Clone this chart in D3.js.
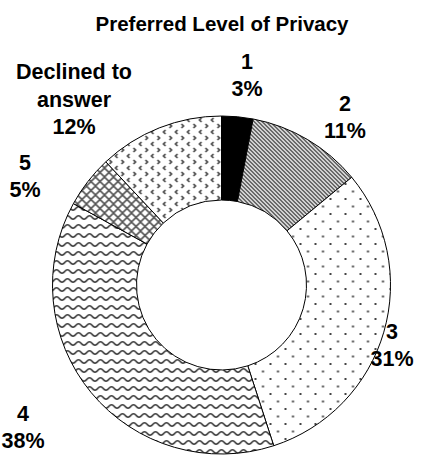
<!DOCTYPE html>
<html><head><meta charset="utf-8">
<script src="https://cdn.jsdelivr.net/npm/d3@7"></script>
<style>html,body{margin:0;padding:0;background:#fff;}svg{display:block;}</style>
</head><body>
<svg id="chart" width="443" height="460"></svg>
<script>
// ---- data ----
const categories = ["1", "2", "3", "4", "5", "Declined to answer"];
const values = [3, 11, 31, 38, 5, 12];
const labelNames = [["1"], ["2"], ["3"], ["4"], ["5"], ["Declined to", "answer"]];
const patternIds = ["solid", "stripes", "dots", "waves", "lattice", "divots"];
const title = "Preferred Level of Privacy";

// ---- layout ----
const W = 443, H = 460;
const cx = 221.5, cy = 285, rOuter = 169, rInner = 85;
const titleSize = 20.5, fontSize = 21.5, lineH = 27.5;
// label anchor: center x, baseline of last line
const labelAnchor = [[247, 96], [345, 138], [392, 366], [23, 448], [25, 197], [74, 134]];

const svg = d3.select("#chart");
const defs = svg.append("defs");
const ink = "#333";

function pat(id, w, h) {
  return defs.append("pattern").attr("id", id).attr("patternUnits", "userSpaceOnUse")
    .attr("width", w).attr("height", h);
}
// stripes "\"
let p = pat("stripes", 4, 4);
p.append("rect").attr("width", 4).attr("height", 4).attr("fill", "#fff");
p.append("path").attr("d", "M-1,-1L5,5M-1,3L1,5M3,-1L5,1").attr("stroke", ink).attr("stroke-width", 1.3);
// dots
p = pat("dots", 15, 15);
p.append("rect").attr("width", 15).attr("height", 15).attr("fill", "#fff");
p.append("rect").attr("x", 3).attr("y", 3).attr("width", 2).attr("height", 2).attr("fill", "#444");
p.append("rect").attr("x", 10.5).attr("y", 10.5).attr("width", 2).attr("height", 2).attr("fill", "#444");
// waves
p = pat("waves", 11, 9);
p.append("rect").attr("width", 11).attr("height", 9).attr("fill", "#fff");
p.append("path").attr("d", "M-2.75,4.5 Q0,1 2.75,4.5 T8.25,4.5 T13.75,4.5").attr("fill", "none")
  .attr("stroke", ink).attr("stroke-width", 1.6);
// lattice
p = pat("lattice", 9, 9);
p.append("rect").attr("width", 9).attr("height", 9).attr("fill", "#fff");
p.append("path").attr("d", "M0,0L9,9M9,0L0,9").attr("stroke", "#555").attr("stroke-width", 1.6);
// divots
p = pat("divots", 12, 12);
p.append("rect").attr("width", 12).attr("height", 12).attr("fill", "#fff");
p.append("path").attr("d", "M4,1L2,3L4,5M8,7L10,9L8,11").attr("fill", "none")
  .attr("stroke", "#333").attr("stroke-width", 1.5);

const pie = d3.pie().sort(null).value(d => d)(values);
const arc = d3.arc().innerRadius(rInner).outerRadius(rOuter);

const g = svg.append("g").attr("transform", `translate(${cx},${cy})`);
g.selectAll("path.slice").data(pie).join("path").attr("class", "slice")
  .attr("d", arc)
  .attr("fill", (d, i) => patternIds[i] === "solid" ? "#000" : `url(#${patternIds[i]})`)
  .attr("stroke", "#000").attr("stroke-width", 1);

const font = "'Liberation Sans', Arial, sans-serif";
svg.append("text").attr("x", 222).attr("y", 31).attr("text-anchor", "middle")
  .attr("font-family", font).attr("font-weight", "bold").attr("font-size", titleSize).text(title);

const total = d3.sum(values);
pie.forEach((d, i) => {
  const lines = labelNames[i].concat([Math.round(values[i] / total * 100) + "%"]);
  const [x, yb] = labelAnchor[i];
  const t = svg.append("text").attr("text-anchor", "middle").attr("font-family", font)
    .attr("font-weight", "bold").attr("font-size", fontSize);
  lines.forEach((s, j) => {
    t.append("tspan").attr("x", x).attr("y", yb - (lines.length - 1 - j) * lineH).text(s);
  });
});
</script>
</body></html>
